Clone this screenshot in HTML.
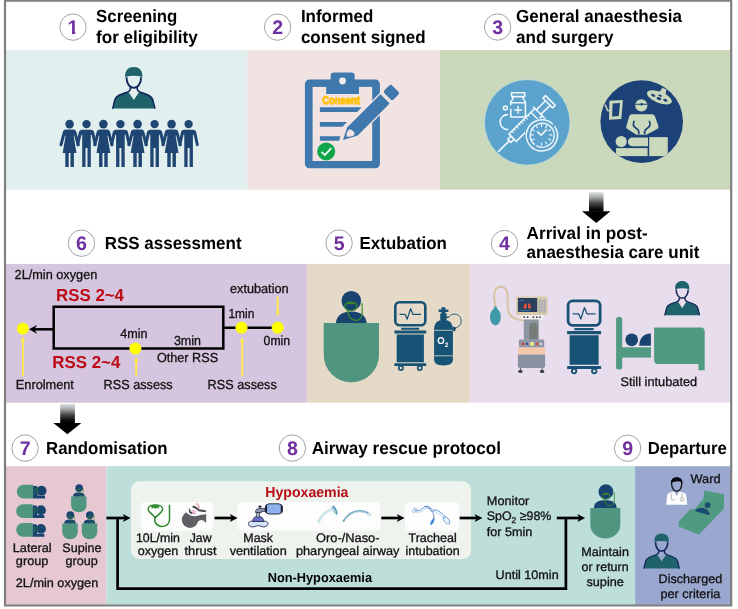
<!DOCTYPE html>
<html><head><meta charset="utf-8"><title>Study flow diagram</title>
<style>
html,body{margin:0;padding:0;background:#fff;}
body{width:738px;height:609px;position:relative;overflow:hidden;font-family:"Liberation Sans",Arial,sans-serif;color:#111;}
svg#art{position:absolute;left:0;top:0;display:block;will-change:transform;-webkit-font-smoothing:antialiased;text-rendering:geometricPrecision;}
svg#art text{white-space:pre;}
</style></head>
<body>

<svg id="art" width="738" height="609" viewBox="0 0 738 609" font-family="'Liberation Sans', Arial, sans-serif" fill="#111">
<defs>
<linearGradient id="gArrow" x1="0" y1="0" x2="0" y2="1">
<stop offset="0" stop-color="#dfe3e3"/><stop offset="0.25" stop-color="#a9abad"/><stop offset="0.55" stop-color="#4a4a4c"/><stop offset="0.85" stop-color="#0a0a0a"/><stop offset="1" stop-color="#000"/>
</linearGradient>
<!-- surgeon bust: 43.4 x 41.6 box -->
<g id="surgeon">
<path d="M0.2,41.6L2.4,32.6C3.4,28.6 8,27 15.4,25L17.2,26.2L21.7,33L26.2,26.2L28,25C35.4,27 40,28.6 41,32.6L43.2,41.6Z" fill="#1f626b"/>
<path d="M0.7,41.2L2.7,32.8C3.7,28.9 8,27.3 15.4,25.2M42.7,41.2L40.7,32.8C39.7,28.9 35.4,27.3 28,25.2" fill="none" stroke="#14285c" stroke-width="1.5" stroke-linecap="round"/>
<path d="M14.4,10.3C14.4,16.2 17.4,20.9 21.7,20.9C26,20.9 29,16.2 29,10.3" fill="none" stroke="#14285c" stroke-width="1.9"/>
<path d="M18.5,19.6C18.6,22.8 18,24.2 15.4,25.1M24.9,19.6C24.8,22.8 25.4,24.2 28,25.1" fill="none" stroke="#14285c" stroke-width="1.7"/>
<path d="M13.1,9.9C12.6,3.2 16.6,0 21.7,0C26.8,0 30.8,3.2 30.3,9.9Q21.7,7.6 13.1,9.9Z" fill="#1f626b"/>
</g>
<!-- people: origin = head centre x, y=0 at head centre -->
<g id="fem">
<circle cx="0" cy="0" r="4.3"/>
<path d="M-3.6,5.5H3.6C5.6,5.5 6.4,6.6 6.9,8.4L10.1,20.3A1.5,1.5 0 0 1 7.2,21.1L4.5,11.2L4.1,12.2L6.9,28.8H4.3V42.8H0.9V28.8H-0.9V42.8H-4.3V28.8H-6.9L-4.1,12.2L-4.5,11.2L-7.2,21.1A1.5,1.5 0 0 1 -10.1,20.3L-6.9,8.4C-6.4,6.6 -5.6,5.5 -3.6,5.5Z"/>
</g>
<g id="mal">
<circle cx="0" cy="0" r="4.2"/>
<path d="M-4.2,5.6H4.2C6.4,5.6 7.4,6.8 7.8,8.6L10.1,20.4A1.4,1.4 0 0 1 7.4,21.1L5.1,10.6L4.3,10.6V42.8H1V24H-1V42.8H-4.3V10.6L-5.1,10.6L-7.4,21.1A1.4,1.4 0 0 1 -10.1,20.4L-7.8,8.6C-7.4,6.8 -6.4,5.6 -4.2,5.6Z"/>
</g>
<!-- monitor on cart: 32.6 wide, ~70 tall -->
<g id="moncart">
<rect x="1.3" y="1.3" width="30" height="22.9" rx="4.2" fill="none" stroke="#175375" stroke-width="2.6"/>
<path d="M5.6,13.4H11.2L13.2,18.2L16.6,7.6L19,13.4H27" fill="none" stroke="#175375" stroke-width="1.2" stroke-linejoin="round"/>
<path d="M7.2,26.7H25.2V28.8H7.2Z M0.4,29.6H32.2V32.6H0.4Z M2.7,33.5H29.9V61.2H2.7Z M0.4,62.2H32.2V65H0.4Z" fill="#175375"/>
<circle cx="6.9" cy="67" r="2.1" fill="none" stroke="#175375" stroke-width="1.7"/>
<circle cx="25.8" cy="67" r="2.1" fill="none" stroke="#175375" stroke-width="1.7"/>
</g>
<!-- patient top view: blanket 55.3 wide; origin at blanket top-left -->
<g id="ptop">
<path d="M12.2,0.3C12.6,-6.5 17,-11.6 27.6,-11.6C38.2,-11.6 42.6,-6.5 43,0.3Z" fill="#194470"/>
<circle cx="27.6" cy="-22.3" r="9.8" fill="#194470"/>
<path d="M0,0H55.3V31.7A27.65,27.65 0 0 1 0,31.7Z" fill="#4f9580"/>
<ellipse cx="27.2" cy="-16.6" rx="6.1" ry="4.3" fill="none" stroke="#3a8c2a" stroke-width="1.2"/>
<path d="M22.4,-19.4C24.6,-21.4 29.8,-21.4 32,-19.4L30.6,-18.6L29,-19.4L27.2,-18.4L25.4,-19.4L23.8,-18.6Z" fill="#3a8c2a"/>
<path d="M23.6,-12.8C24.6,-6.6 27.6,-3 31.6,-2.6C35,-2.4 37.6,-5 38.4,-8.4V-19.4" fill="none" stroke="#3a8c2a" stroke-width="1.2" stroke-linecap="round"/>
</g>
<clipPath id="cp1"><path d="M60,14H86V31.2H75.2V36H72V31.2H60Z"/></clipPath>
<!-- medium patient top view: blanket 30 wide x 30.5; origin blanket top-left -->
<g id="pmed">
<path d="M3.6,0.3C3.8,-5.4 7,-7.8 15,-7.8C23,-7.8 26.2,-5.4 26.4,0.3Z" fill="#194470"/>
<circle cx="15.6" cy="-16.4" r="7.4" fill="#194470"/>
<path d="M0,0H30V16.6A15,13.9 0 0 1 0,16.6Z" fill="#4f9580"/>
<ellipse cx="15.7" cy="-11.8" rx="4" ry="3" fill="none" stroke="#3a8c2a" stroke-width="0.9"/>
<path d="M13,-13.6C14.4,-14.8 17,-14.8 18.4,-13.6L17,-13L15.7,-13.6L14.4,-13Z" fill="#3a8c2a"/>
<path d="M14,-8.8C14.6,-4.6 17.2,-2.2 20,-2.4C22.6,-2.8 24,-4.8 24,-7.4V-15.4" fill="none" stroke="#3a8c2a" stroke-width="0.9" stroke-linecap="round"/>
</g>
<!-- lateral patient: origin = blanket left/top; blanket 16.4 x 13.7 -->
<g id="plat">
<path d="M16.2,1.2H19.4C20.4,1.2 20.8,2 20.8,3V10.8H27.4A0.8,0.8 0 0 1 28.2,11.6V13.7H16.2Z" fill="#194470"/>
<circle cx="24.8" cy="5.9" r="4.9" fill="#194470"/>
<path d="M6.85,0H16.4V13.7H6.85A6.85,6.85 0 0 1 6.85,0Z" fill="#4f9580"/>
<path d="M21.4,3.4C20.4,4.6 20.4,7.2 21.6,8.4M18.4,3V9.6" fill="none" stroke="#2c8a3c" stroke-width="0.7"/>
</g>
<!-- small arrow head: tip at origin pointing right -->
<path id="ah" d="M0,0L-7.8,-4L-5.8,0L-7.8,4Z" fill="#000"/>
</defs>

<g id="panels">
<rect x="5" y="50.1" width="242.5" height="139.6" fill="#e2efef"/>
<rect x="247.5" y="50.1" width="192.5" height="139.6" fill="#f1e3e2"/>
<rect x="440" y="50.1" width="291" height="139.6" fill="#cad8bc"/>
<rect x="5" y="263.9" width="301.9" height="138.8" fill="#d6c5df"/>
<rect x="306.9" y="263.9" width="163.7" height="138.8" fill="#e5d9c7"/>
<rect x="470.6" y="263.9" width="260.4" height="138.8" fill="#e8ddec"/>
<rect x="5" y="466.2" width="101.4" height="139.8" fill="#e6c8d2"/>
<rect x="106.4" y="466.2" width="528.7" height="139.8" fill="#bedeDA"/>
<rect x="635.1" y="466.2" width="96" height="139.8" fill="#9aa8d0"/>
<path d="M5,0.6H731.2V605.5H5Z" fill="none" stroke="#7f7f7f" stroke-width="2.2"/>
<!-- big arrows -->
<path d="M589,192.2H603.5V211.3Z" fill="none"/>
<rect x="589" y="192.2" width="14.5" height="19.6" fill="url(#gArrow)"/>
<path d="M582,211.3H610.5L596.3,222.9Z" fill="#000"/>
<rect x="60.2" y="403.9" width="14.7" height="19.5" fill="url(#gArrow)"/>
<path d="M53.4,422.9H81.3L67.4,434.3Z" fill="#000"/>
</g>

<g id="numbers">
<circle cx="73" cy="27.1" r="13.2" fill="#fff" stroke="#8c8c8c" stroke-width="0.8"/>
<text x="73" y="34.0" font-size="19.6" font-weight="bold" fill="#7030a0" text-anchor="middle" clip-path="url(#cp1)">1</text>
<circle cx="277.6" cy="27.1" r="13.2" fill="#fff" stroke="#8c8c8c" stroke-width="0.8"/>
<text x="277.6" y="34.0" font-size="19.6" font-weight="bold" fill="#7030a0" text-anchor="middle">2</text>
<circle cx="497.6" cy="27.0" r="13.2" fill="#fff" stroke="#8c8c8c" stroke-width="0.8"/>
<text x="497.6" y="33.9" font-size="19.6" font-weight="bold" fill="#7030a0" text-anchor="middle">3</text>
<circle cx="81.4" cy="243.2" r="13.2" fill="#fff" stroke="#8c8c8c" stroke-width="0.8"/>
<text x="81.4" y="250.1" font-size="19.6" font-weight="bold" fill="#7030a0" text-anchor="middle">6</text>
<circle cx="339.1" cy="243.0" r="13.2" fill="#fff" stroke="#8c8c8c" stroke-width="0.8"/>
<text x="339.1" y="249.9" font-size="19.6" font-weight="bold" fill="#7030a0" text-anchor="middle">5</text>
<circle cx="504.5" cy="243.5" r="13.2" fill="#fff" stroke="#8c8c8c" stroke-width="0.8"/>
<text x="504.5" y="250.4" font-size="19.6" font-weight="bold" fill="#7030a0" text-anchor="middle">4</text>
<circle cx="25.1" cy="448.1" r="13.2" fill="#fff" stroke="#8c8c8c" stroke-width="0.8"/>
<text x="25.1" y="455.0" font-size="19.6" font-weight="bold" fill="#7030a0" text-anchor="middle">7</text>
<circle cx="292.4" cy="448.1" r="13.2" fill="#fff" stroke="#8c8c8c" stroke-width="0.8"/>
<text x="292.4" y="455.0" font-size="19.6" font-weight="bold" fill="#7030a0" text-anchor="middle">8</text>
<circle cx="627.6" cy="448.2" r="13.2" fill="#fff" stroke="#8c8c8c" stroke-width="0.8"/>
<text x="627.6" y="455.1" font-size="19.6" font-weight="bold" fill="#7030a0" text-anchor="middle">9</text>
</g>
<g id="titles" font-weight="bold" fill="#000">
<text x="96.1" y="22.3" font-size="17.5" fill="#000" textLength="81.3" lengthAdjust="spacingAndGlyphs">Screening</text>
<text x="96.1" y="43.1" font-size="17.5" fill="#000" textLength="101.6" lengthAdjust="spacingAndGlyphs">for eligibility</text>
<text x="300.9" y="22.3" font-size="17.5" fill="#000" textLength="72.4" lengthAdjust="spacingAndGlyphs">Informed</text>
<text x="300.9" y="43.1" font-size="17.5" fill="#000" textLength="124.7" lengthAdjust="spacingAndGlyphs">consent signed</text>
<text x="516" y="22.3" font-size="17.5" fill="#000" textLength="165.9" lengthAdjust="spacingAndGlyphs">General anaesthesia</text>
<text x="516" y="43.1" font-size="17.5" fill="#000" textLength="97.6" lengthAdjust="spacingAndGlyphs">and surgery</text>
<text x="104.7" y="249.0" font-size="17.5" fill="#000" textLength="136.9" lengthAdjust="spacingAndGlyphs">RSS assessment</text>
<text x="359.6" y="248.7" font-size="17.5" fill="#000" textLength="87.3" lengthAdjust="spacingAndGlyphs">Extubation</text>
<text x="526.6" y="238.6" font-size="17.5" fill="#000" textLength="121" lengthAdjust="spacingAndGlyphs">Arrival in post-</text>
<text x="526.6" y="258.4" font-size="17.5" fill="#000" textLength="172.8" lengthAdjust="spacingAndGlyphs">anaesthesia care unit</text>
<text x="46.1" y="453.9" font-size="17.5" fill="#000" textLength="121.4" lengthAdjust="spacingAndGlyphs">Randomisation</text>
<text x="311.7" y="454.1" font-size="17.5" fill="#000" textLength="189.3" lengthAdjust="spacingAndGlyphs">Airway rescue protocol</text>
<text x="647.7" y="454.1" font-size="17.5" fill="#000" textLength="79.1" lengthAdjust="spacingAndGlyphs">Departure</text>
</g>
<g id="row1">
<!-- panel 1 -->
<use href="#surgeon" x="112.1" y="67"/>
<g fill="#1f4572">
<use href="#fem" x="69.6" y="124.1"/><use href="#mal" x="86.5" y="124.1"/>
<use href="#fem" x="103.4" y="124.1"/><use href="#mal" x="120.4" y="124.1"/>
<use href="#fem" x="137.6" y="124.1"/><use href="#mal" x="154.6" y="124.1"/>
<use href="#fem" x="171.6" y="124.1"/><use href="#mal" x="188.6" y="124.1"/>
</g>
<!-- panel 2: clipboard -->
<g id="clipboard">
<rect x="304.9" y="79.6" width="75" height="88.7" rx="4.5" fill="#3e78ad"/>
<rect x="312.6" y="86.9" width="59.6" height="74.1" fill="#f1e3e2"/>
<path d="M326.2,93.9V80.5H330.7V75.6A3.1,3.1 0 0 1 333.8,72.5H351.6A3.1,3.1 0 0 1 354.7,75.6V80.5H359V93.9Z" fill="#3e78ad"/>
<circle cx="342.5" cy="81" r="3.4" fill="#f4ecec"/>
<text x="322.2" y="103.6" font-size="11" font-weight="bold" fill="#ffc20e" stroke="#ffc20e" stroke-width="1.15" stroke-linejoin="round" textLength="37.6" lengthAdjust="spacingAndGlyphs">Consent</text>
<path d="M319.9,107.3H361.6L357.2,111.9H319.9Z M319.9,122.1H347L342.6,126.8H319.9Z M319.9,136.2H340.4L339.2,140.8H319.9Z" fill="#3e78ad"/>
<g transform="translate(343.5,140.4) rotate(-45)">
<path d="M-1.8,-0.8L11.5,-7.9H73A2,2 0 0 1 75,-5.9V5.9A2,2 0 0 1 73,7.9H13.5Z" fill="#f1e3e2"/>
<path d="M0,-0.7L11.6,-6.5H58.8V6.5H13.6Z" fill="#3e78ad"/>
<path d="M5,-0.6C6.6,-2.8 9.4,-4.2 12,-3.6C13.6,-1.4 13.8,1 12.6,3.4C10,3.8 6.8,2.2 5,-0.6Z" fill="#f1e3e2"/>
<rect x="62.3" y="-6.5" width="11" height="13" rx="2.4" fill="#3e78ad"/>
</g>
<circle cx="326.2" cy="151.5" r="9" fill="#10a64a"/>
<path d="M321.6,151.8L324.9,155L331.2,148.2" fill="none" stroke="#fff" stroke-width="1.7"/>
</g>
<!-- panel 3: icons -->
<g id="anaes">
<circle cx="527.2" cy="122.4" r="42.8" fill="#5ba3cd" stroke="#c6e2dc" stroke-width="0.7"/>
<g fill="none" stroke="#eef6fb" stroke-width="1.6" stroke-linecap="round" stroke-linejoin="round">
<rect x="511.6" y="92.8" width="13.2" height="3.8"/>
<path d="M513.2,96.6L512.6,99.6C511.4,100.2 510.8,101 510.8,102.2V104.8M510.8,109.4V117H525.4V102.2C525.4,101 524.8,100.2 523.6,99.6L523,96.6M510.8,102.8H525.4"/>
<path d="M518.1,106.6V113.2M514.8,109.9H521.4" stroke-width="1.5"/>
<circle cx="505.4" cy="107.9" r="1.9"/>
<path d="M507.6,114.6A7.5,7.5 0 0 0 507.6,129.6"/>
<g transform="translate(498.6,151.4) rotate(-44.5)">
<path d="M0,0H15"/>
<path d="M15,-2.2H19.5V2.2H15Z"/>
<path d="M19.5,-5.2H56V5.2H19.5Z"/>
<path d="M24,-5.2V-2.6M27.2,-5.2V-3.4M30.4,-5.2V-2.6M33.6,-5.2V-3.4M36.8,-5.2V-2.6M40,-5.2V-3.4M43.2,-5.2V-2.6M46.4,-5.2V-3.4" stroke-width="1"/>
<path d="M50.5,-5.2V5.2"/>
<path d="M56,5.2V9.6M56,-5.2V-7"/>
<path d="M56,-3.2H69M56,3.2H69"/>
<path d="M69,-6.9H72.6V6.9H69Z"/>
</g>
<circle cx="541.5" cy="134.9" r="16.6" fill="#5ba3cd" stroke="none"/>
<path d="M552.6,124A15.6,15.6 0 1 0 554.8,126.6" stroke-width="1.5"/>
<path d="M534.4,144.4A12,12 0 1 1 536.6,145.9" stroke-width="1.4"/>
<path d="M541.5,124.6V126.6M541.5,143.2V145.2M531.2,134.9H533.2M549.8,134.9H551.8M536.4,126L537.4,127.7M546.6,126L545.6,127.7M532.6,129.8L534.3,130.8M550.4,129.8L548.7,130.8M532.6,140L534.3,139M550.4,140L548.7,139M546.6,143.8L545.6,142.1" stroke-width="1.2"/>
<path d="M537.6,131.9L541.2,135.2L546.6,129.6" stroke-width="1.6"/>
</g>
</g>
<g id="surgery">
<clipPath id="cpS"><circle cx="641.7" cy="121.6" r="41.3"/></clipPath>
<circle cx="641.7" cy="121.6" r="41.3" fill="#1c4278"/>
<g fill="#cad8bc" clip-path="url(#cpS)">
<g transform="translate(659.4,97.4) rotate(22)">
<ellipse cx="0" cy="0" rx="13.2" ry="5.5"/>
<path d="M-2.2,-4.5L-0.8,-10H3.4L4.8,-4.5Z"/>
<g fill="#1c4278"><ellipse cx="-6.5" cy="0.4" rx="2.3" ry="1.3"/><ellipse cx="0" cy="1.3" rx="2.5" ry="1.4"/><ellipse cx="6.5" cy="0.4" rx="2.3" ry="1.3"/><ellipse cx="0" cy="-1.9" rx="2" ry="0.9"/></g>
</g>
<path d="M609.4,100.8L622.9,100L621.3,119L609,119.8Z"/>
<path d="M612.6,103.6L620,103.1L618.8,116L612.1,116.6Z" fill="#1c4278"/>
<path d="M605.2,104.6L607.6,110.6L610,110.8" fill="none" stroke="#cad8bc" stroke-width="1.5"/>
<circle cx="641.3" cy="105.4" r="6.1"/>
<path d="M635.3,104.2H647.3" stroke="#1c4278" stroke-width="1.1"/>
<circle cx="641.6" cy="104.2" r="1.3" fill="#1c4278"/>
<path d="M631.6,114.3H651.6C653.6,114.3 654.6,115.3 655.2,117L658.4,126C658.8,127.4 658.4,128.4 657.2,129.1L646.5,134.8H636.5L627.4,129.1C626.3,128.4 625.9,127.4 626.4,126L629,117C629.6,115.3 630.6,114.3 631.6,114.3Z"/>
<path d="M634,121.4C632.6,124.4 633.4,126.6 636.4,128.4C638.6,129.8 639.2,131.4 638.8,133.6M649.4,121.4C650.8,124.4 650,126.6 647,128.4C644.8,129.8 644.2,131.4 644.6,133.6" fill="none" stroke="#1c4278" stroke-width="1.7" stroke-linecap="round"/>
<circle cx="621.2" cy="141.5" r="5.6"/>
<path d="M632.4,137.4H648V146.3H632.4A4.4,4.4 0 0 1 632.4,137.4Z"/>
<rect x="649.2" y="137.1" width="18.6" height="19"/>
<rect x="616" y="148.1" width="31.6" height="8"/>
</g>
</g>
</g>

<g id="row2">
<!-- panel 6 flow -->
<g id="rss">
<path d="M53.7,306.8H223.3V348.6H53.7Z" fill="none" stroke="#000" stroke-width="2.5"/>
<path d="M53.7,329.3H33" fill="none" stroke="#000" stroke-width="2.5"/>
<path d="M29,329.3L37,324.9L34.6,329.3L37,333.7Z" fill="#000"/>
<path d="M223.3,327.7H277.7" fill="none" stroke="#000" stroke-width="2.5"/>
<g stroke="#ffe94e" stroke-width="1.9" fill="#ffe94e">
<path d="M22.9,376.4V340M136.2,376.4V360.5M242.2,376.4V340.6M277.7,296.6V312.5" fill="none"/>
<path d="M22.9,336.2L25.1,341.2H20.7Z M136.2,356.8L138.4,361.8H134Z M242.2,336.9L244.4,341.9H240Z M277.7,316.4L279.9,311.4H275.5Z" stroke="none"/>
</g>
<g fill="#ffff00" stroke="#f2ee2a" stroke-width="0.5">
<circle cx="22.9" cy="328.7" r="5.85"/><circle cx="135.4" cy="348.6" r="5.85"/><circle cx="241.5" cy="327.7" r="5.85"/><circle cx="277.7" cy="327.7" r="5.85"/>
</g>
<text x="14.6" y="278.7" font-size="13.1" stroke="#111" stroke-width="0.3" textLength="82.7" lengthAdjust="spacingAndGlyphs">2L/min oxygen</text>
<text x="56" y="300.8" font-size="17.3" font-weight="bold" fill="#bb0a12" textLength="68" lengthAdjust="spacingAndGlyphs">RSS 2~4</text>
<text x="52.3" y="367.9" font-size="17.3" font-weight="bold" fill="#bb0a12" textLength="68" lengthAdjust="spacingAndGlyphs">RSS 2~4</text>
<text x="230" y="292.7" font-size="13.1" stroke="#111" stroke-width="0.3" textLength="58.6" lengthAdjust="spacingAndGlyphs">extubation</text>
<text x="228.4" y="317.7" font-size="13.1" stroke="#111" stroke-width="0.3" textLength="25.9" lengthAdjust="spacingAndGlyphs">1min</text>
<text x="263.6" y="344.5" font-size="13.1" stroke="#111" stroke-width="0.3" textLength="26.5" lengthAdjust="spacingAndGlyphs">0min</text>
<text x="173.9" y="344.8" font-size="13.1" stroke="#111" stroke-width="0.3" textLength="27" lengthAdjust="spacingAndGlyphs">3min</text>
<text x="120.2" y="338.1" font-size="13.1" stroke="#111" stroke-width="0.3" textLength="27.3" lengthAdjust="spacingAndGlyphs">4min</text>
<text x="156.9" y="361.5" font-size="13.1" stroke="#111" stroke-width="0.3" textLength="61.2" lengthAdjust="spacingAndGlyphs">Other RSS</text>
<text x="15.8" y="388.9" font-size="13.1" stroke="#111" stroke-width="0.3" textLength="58.1" lengthAdjust="spacingAndGlyphs">Enrolment</text>
<text x="103.5" y="388.9" font-size="13.1" stroke="#111" stroke-width="0.3" textLength="69.2" lengthAdjust="spacingAndGlyphs">RSS assess</text>
<text x="207.6" y="388.9" font-size="13.1" stroke="#111" stroke-width="0.3" textLength="69.2" lengthAdjust="spacingAndGlyphs">RSS assess</text>
</g>
<!-- panel 5 -->
<use href="#ptop" x="323.7" y="323"/>
<use href="#moncart" x="394" y="301"/>
<g id="o2cyl">
<path d="M434.1,329.4C434.1,323.4 437.6,319.7 443.5,319.7C449.4,319.7 452.9,323.4 452.9,329.4V359.6C452.9,363.4 450.2,365.5 443.5,365.5C436.8,365.5 434.1,363.4 434.1,359.6Z" fill="#175375"/>
<path d="M434.1,330.3H452.9M434.1,355.8H452.9" stroke="#e6d9c8" stroke-width="0.8" fill="none"/>
<path d="M441.4,307.2H445.4V309.4H448.4V312H445.4V313.6H446.6V316.4H448.8V318H446.6V320H440.2V313.6H441.4V312H438.6V309.4H441.4Z" fill="#175375"/>
<path d="M448.8,317.2C450.4,314 455.6,313 458.8,315.6C462.2,318.6 462.2,324.4 457.6,327.2C456.4,327.8 455.4,328.2 454.8,328.8" fill="none" stroke="#175375" stroke-width="0.9"/>
<path d="M453.2,326.6L456,327.6L455,331.6L452.4,330.6Z" fill="#175375"/>
<text x="437.2" y="344" font-size="10" font-weight="bold" fill="#fff" textLength="7.4" lengthAdjust="spacingAndGlyphs">O</text>
<text x="444.8" y="347.2" font-size="6.4" font-weight="bold" fill="#fff">2</text>
</g>
<!-- panel 4 -->
<g id="anmachine">
<path d="M495.5,308C494,300 493.4,293.4 495.6,289.6C498,285.6 504,285.8 506.4,290C508.4,294 507.4,302 507.8,308C508.2,314.6 511.6,319.8 523.6,320.2" fill="none" stroke="#d8c3a0" stroke-width="1.9"/>
<ellipse cx="495.4" cy="317" rx="5.4" ry="8.4" fill="#3f99a8"/>
<rect x="493.9" y="306.6" width="3" height="2.6" fill="#3f99a8"/>
<rect x="516.1" y="296.6" width="31.4" height="18.4" rx="0.8" fill="#d9caa9"/>
<rect x="517.9" y="298" width="19.3" height="14" fill="#2b3f5f"/>
<path d="M525.6,303.4C524,304 523.4,306.8 523.8,308.4C524.6,309.2 526,308.6 526.6,307.4V304C526.4,303.4 526,303.2 525.6,303.4Z M529,303.4C530.6,304 531.2,306.8 530.8,308.4C530,309.2 528.6,308.6 528,307.4V304C528.2,303.4 528.6,303.2 529,303.4Z" fill="#e2573a"/>
<path d="M519.2,300.4H524M519.2,310.6H530" stroke="#3d7fb0" stroke-width="0.9"/>
<rect x="538.4" y="299.6" width="7.6" height="12.8" fill="#a9adb5"/>
<path d="M538.4,302.6H546M538.4,305.6H546M538.4,308.8H546M541,299.6V312.4M543.5,299.6V312.4" stroke="#d9caa9" stroke-width="0.5"/>
<rect x="521" y="315" width="21.8" height="4.5" fill="#f4f1ee"/>
<g fill="#2b3f5f"><circle cx="524.2" cy="317.2" r="0.9"/><circle cx="527.6" cy="317.2" r="0.9"/><circle cx="533.4" cy="317.2" r="0.9"/><circle cx="536.8" cy="317.2" r="0.9"/><circle cx="540" cy="317.2" r="0.9"/></g>
<rect x="523.8" y="319.5" width="15" height="20.3" fill="#8d95a3"/>
<path d="M529.4,339.6V326.4L531,322.8H536.6L537.6,326.4V339.6Z" fill="#757b77"/>
<rect x="518.9" y="339.6" width="25.3" height="8" rx="0.8" fill="#8f97a7"/>
<circle cx="523" cy="343.9" r="1.4" fill="#d9443a"/><circle cx="527" cy="343.9" r="1.1" fill="#2b3f8f"/><circle cx="532" cy="343.9" r="2.1" fill="#f6e98a"/><circle cx="537" cy="343.9" r="1.4" fill="#d9443a"/><circle cx="540.8" cy="343.9" r="1.1" fill="#f4f1ee"/>
<rect x="517.9" y="347.6" width="27.2" height="6.9" fill="#f1c9a9"/>
<path d="M517.9,354.5H545.1V365.4A2.6,2.6 0 0 1 542.5,368H520.5A2.6,2.6 0 0 1 517.9,365.4Z" fill="#8991a1"/>
<path d="M520.4,368V370M542.1,368V370" stroke="#555b66" stroke-width="1"/>
<ellipse cx="520.4" cy="371.4" rx="2.2" ry="1.7" fill="#3a3f4a"/><ellipse cx="542.1" cy="371.4" rx="2.2" ry="1.7" fill="#3a3f4a"/>
</g>
<use href="#moncart" transform="translate(566.7,299.5) scale(1.068)"/>
<g id="bed4">
<rect x="616.1" y="317" width="6.1" height="52.4" rx="2" fill="#4f9a80"/>
<rect x="620" y="347.3" width="31" height="10.3" fill="#4f9a80"/>
<path d="M654.1,327.6H700.7A4,4 0 0 1 704.7,331.6V370.3H698.5V363.9H658.1A4,4 0 0 1 654.1,359.9Z" fill="#4f9a80"/>
<circle cx="631.7" cy="339.8" r="6.4" fill="#194470"/>
<path d="M639.2,345.8C639.2,338 644,333.4 650.9,333.4V345.8Z" fill="#194470"/>
</g>
<use href="#surgeon" transform="translate(664.3,281) scale(0.824)"/>
<text x="620.4" y="385.9" font-size="12.7" stroke="#111" stroke-width="0.3" textLength="76.8" lengthAdjust="spacingAndGlyphs">Still intubated</text>
</g>

<g id="row3">
<!-- panel 7 -->
<use href="#plat" x="16.8" y="484.8"/>
<use href="#plat" x="16.2" y="504.3"/>
<use href="#plat" x="16.2" y="523"/>
<use href="#pmed" transform="translate(71.1,496.6) scale(0.515)"/>
<use href="#pmed" transform="translate(62.3,523.6) scale(0.515)"/>
<use href="#pmed" transform="translate(81.8,523.6) scale(0.515)"/>
<g font-size="12.4" stroke="#111" stroke-width="0.3">
<text x="12.8" y="551.9" textLength="38.9" lengthAdjust="spacingAndGlyphs">Lateral</text>
<text x="15.8" y="564.7" textLength="32.6" lengthAdjust="spacingAndGlyphs">group</text>
<text x="62.3" y="551.9" textLength="39.2" lengthAdjust="spacingAndGlyphs">Supine</text>
<text x="65.6" y="564.7" textLength="32.3" lengthAdjust="spacingAndGlyphs">group</text>
<text x="15.8" y="586.5" textLength="82.4" lengthAdjust="spacingAndGlyphs">2L/min oxygen</text>
</g>
<!-- panel 8 -->
<rect x="130.9" y="481.3" width="340.2" height="77.6" rx="8.5" fill="#eef3ee"/>
<rect x="140.8" y="502" width="72.3" height="28.8" rx="4.5" fill="#fcfdfc"/>
<rect x="237.6" y="502" width="142.8" height="28.8" rx="4.5" fill="#fcfdfc"/>
<rect x="404.9" y="502" width="54.3" height="28.8" rx="4.5" fill="#fcfdfc"/>
<g fill="none" stroke="#000" stroke-width="2.7">
<path d="M106.4,518H126"/>
<path d="M117.6,518V588.7H565.9V518"/>
<path d="M214.6,518H233"/>
<path d="M381.3,518H400"/>
<path d="M459.6,518H478"/>
<path d="M556.8,518H580.5"/>
</g>
<use href="#ah" x="130.6" y="518"/><use href="#ah" x="237.6" y="518"/><use href="#ah" x="404.6" y="518"/><use href="#ah" x="482.4" y="518"/><use href="#ah" x="585.1" y="518"/>
<!-- icons -->
<g id="ic-mask" fill="none" stroke="#2e8b2e" stroke-width="1.5" stroke-linecap="round" stroke-linejoin="round">
<path d="M155.4,517.6L149.2,511.6C147.4,509.4 148.2,506.6 150.8,505.6C153.4,504.8 157.4,504.8 160,505.6C162.6,506.6 163.4,509.4 161.6,511.6L155.4,517.6C154.6,519 154.6,521.4 155.6,523C157.6,526.4 162.6,527.4 166.2,525.4C168.6,524 169.5,521.6 169.5,519V505.4"/>
<path d="M151.8,505.6C153.6,505 157.2,505 159,505.6L158.4,508.2L157.2,507.2L155.4,508.4L153.6,507.2L152.4,508.2Z" fill="#2e8b2e" stroke-width="0.8"/>
</g>
<g id="ic-jaw">
<circle cx="190" cy="519.8" r="8.2" fill="#606165"/>
<path d="M195,514.6L206.2,514.2V522.3L205.2,522.8C204.2,520.4 201.8,519.4 199.4,520.6L196,523Z" fill="#606165"/>
<path d="M186.6,508.2C187.6,512.6 191.4,514.8 197,514L205.8,512V513.8L197.6,515.8C191.6,517 187.2,514.8 185.4,510.6Z" fill="#fdfdfd"/>
<path d="M192.4,509.4L196,510.8L195.4,514L192.2,513.4Z" fill="#f4b8d8"/>
<path d="M197.2,503.6L199.4,508.2" stroke="#efa3b9" stroke-width="1.7" fill="none"/>
<path d="M196.4,503.2L197.6,505.2" stroke="#e9cdbd" stroke-width="1.7" fill="none"/>
<path d="M192.6,506.6C195.4,506.8 197,508.8 199,510.2L205.8,511.2" fill="none" stroke="#47484c" stroke-width="2"/>
<path d="M189.4,508.8C189.6,511 190.2,512.4 191.4,513.8" fill="none" stroke="#47484c" stroke-width="1.4"/>
<path d="M199.6,512.5L205.8,512.7" fill="none" stroke="#fdfdfd" stroke-width="0.7"/>
</g>
<g id="ic-bvm">
<path d="M248.6,524.6C247.6,522.6 249.6,520.8 252.4,521.2H264C266.8,520.8 268.8,522.6 267.8,524.6C267,526.8 263.4,527.6 261.2,526.4C259.4,525.4 257,525.4 255.2,526.4C253,527.6 249.4,526.8 248.6,524.6Z" fill="#d3e3fa" stroke="#1a1a2e" stroke-width="0.8"/>
<path d="M252.6,521.4A5.6,5.4 0 0 1 263.8,521.4Z" fill="#6a70d2" stroke="#1a1a2e" stroke-width="0.7"/>
<rect x="256.8" y="512.6" width="2.8" height="4.6" fill="#a9b3c9" stroke="#1a1a2e" stroke-width="0.6"/>
<path d="M255.6,512.6C255.2,510.2 256.6,508.6 259,508.6H265.2V511.4H261.4V512.6Z" fill="#8f9bbb" stroke="#1a1a2e" stroke-width="0.7"/>
<path d="M258.4,506.6H261.6M260,505.2V508.4" stroke="#1a1a2e" stroke-width="1.1" fill="none"/>
<rect x="265.4" y="503.8" width="17" height="10.2" rx="3.8" fill="#8db4ec" stroke="#1a1a2e" stroke-width="0.9"/>
<path d="M266.2,505.4V512.4M281.6,505.4V512.4" stroke="#1a1a2e" stroke-width="1.7" fill="none"/>
</g>
<g id="ic-airway" fill="none" stroke-linecap="round">
<path d="M318.8,521.6C321.6,515 326.6,510.6 333.6,508.8" stroke="#cfe3ec" stroke-width="2.8"/>
<path d="M320.4,521C323,515.6 327.4,512 333.4,510.4" stroke="#eaf3f7" stroke-width="1"/>
<path d="M333.2,506.4C335.4,508.4 336.6,511 336.6,513.8" stroke="#4f96b0" stroke-width="1.7"/>
<path d="M332,507.2L335,513.4" stroke="#9cc7d8" stroke-width="1.3"/>
<path d="M343.6,521C347,515.4 352.6,511.4 358.6,511C362.6,510.8 366.6,512.2 369,514" stroke="#79aac4" stroke-width="2.1"/>
<path d="M344.6,520.2C348,515.4 353,512 358.6,511.8C362,511.6 365.6,512.6 368,514" stroke="#c5dde9" stroke-width="0.8"/>
<circle cx="369.4" cy="514.6" r="1.5" fill="#eef4f8" stroke="#b4cbd8" stroke-width="0.6"/>
</g>
<g id="ic-ett" fill="none" stroke="#3f7fd0" stroke-linecap="round">
<path d="M414.4,509.6C418.6,512.4 421.6,509.6 423.6,507.4C426.6,504.8 430.6,507 432.8,510.4C436.6,508.4 441.6,512.4 446.6,518.6" stroke-width="0.8"/>
<path d="M415.6,511.6C419.6,513.6 422.6,511 424.6,509C427,507 429.6,508.6 431,511.4C436,510.6 440.6,514.4 444.6,519.6" stroke-width="0.6" stroke="#8fb2e4"/>
<path d="M412.6,510.4C413.2,508 415.6,507.2 416.6,508.8C417.4,511 415.4,512.6 413.4,512.4Z" stroke-width="0.7" stroke="#7ea4df"/>
<path d="M443.8,517.2C446.6,516 449.6,519 449.8,522.4C449.6,524.6 447.4,524.4 445.6,522.8C443.6,521.2 442.6,518.6 443.8,517.2Z" stroke-width="0.7" fill="#e8f0fb"/>
<path d="M425,506.4C430.6,507.4 434.6,512.6 433.8,519" stroke-width="0.7" stroke="#3a5f9f"/>
<path d="M434,518.4C434.6,520.4 432.8,524 430.8,524.8C430.2,523 431.6,519.6 434,518.4Z" fill="#2f7fe0" stroke-width="0.6"/>
</g>
<use href="#pmed" x="590.3" y="508.1"/>
<!-- texts -->
<text x="265.2" y="496.8" font-size="14.4" font-weight="bold" fill="#b80c14" textLength="83.3" lengthAdjust="spacingAndGlyphs">Hypoxaemia</text>
<text x="267.7" y="581.5" font-size="13.2" font-weight="bold" fill="#000" textLength="104.3" lengthAdjust="spacingAndGlyphs">Non-Hypoxaemia</text>
<g font-size="12.4" stroke="#111" stroke-width="0.3">
<text x="136" y="541.9" textLength="43.9" lengthAdjust="spacingAndGlyphs">10L/min</text>
<text x="137.7" y="554.8" textLength="40.7" lengthAdjust="spacingAndGlyphs">oxygen</text>
<text x="189.7" y="541.9" textLength="21.9" lengthAdjust="spacingAndGlyphs">Jaw</text>
<text x="184.5" y="554.8" textLength="32" lengthAdjust="spacingAndGlyphs">thrust</text>
<text x="243.3" y="541.9" textLength="29.7" lengthAdjust="spacingAndGlyphs">Mask</text>
<text x="229.7" y="554.8" textLength="57" lengthAdjust="spacingAndGlyphs">ventilation</text>
<text x="316.1" y="541.9" textLength="63.4" lengthAdjust="spacingAndGlyphs">Oro-/Naso-</text>
<text x="295.9" y="554.8" textLength="103.6" lengthAdjust="spacingAndGlyphs">pharyngeal airway</text>
<text x="408.5" y="541.9" textLength="48.3" lengthAdjust="spacingAndGlyphs">Tracheal</text>
<text x="405.6" y="554.8" textLength="54" lengthAdjust="spacingAndGlyphs">intubation</text>
<text x="486.8" y="504.8" textLength="42.5" lengthAdjust="spacingAndGlyphs">Monitor</text>
<text x="486.8" y="520.2">SpO<tspan font-size="8.4" dy="2.6">2</tspan><tspan dy="-2.6"> ≥98%</tspan></text>
<text x="486.8" y="535.7" textLength="45.6" lengthAdjust="spacingAndGlyphs">for 5min</text>
<text x="495.6" y="579.4" textLength="63.1" lengthAdjust="spacingAndGlyphs">Until 10min</text>
<text x="581.3" y="555.7" textLength="47.6" lengthAdjust="spacingAndGlyphs">Maintain</text>
<text x="581.6" y="571.1" textLength="47" lengthAdjust="spacingAndGlyphs">or return</text>
<text x="586.5" y="585.9" textLength="37.3" lengthAdjust="spacingAndGlyphs">supine</text>
</g>
<!-- panel 9 -->
<g id="doctor">
<path d="M666.1,504.8L667.2,495.4C667.6,493.4 668.8,492.6 671,492.2L674.2,491.4H679.2L682.4,492.2C684.6,492.6 685.8,493.4 686.2,495.4L687.3,504.8Z" fill="#fdfdfd"/>
<path d="M674.2,491.6L676.7,496L679.2,491.6" fill="#9aa8d0"/>
<path d="M671.2,493V498.6A1.6,1.6 0 0 0 674.4,498.6M682,493V497.6" fill="none" stroke="#9a9a9a" stroke-width="0.7"/>
<circle cx="682" cy="499.4" r="1.6" fill="none" stroke="#9a9a9a" stroke-width="0.7"/>
<path d="M671.6,483.6C671.6,480 673.6,478 676.7,478C679.8,478 681.8,480 681.8,483.6C681.8,488 679.6,491.2 676.7,491.2C673.8,491.2 671.6,488 671.6,483.6Z" fill="#9aa8d0" stroke="#0c0c14" stroke-width="1.2"/>
<path d="M671,484C670.4,479.6 673,477.2 676.7,477.2C680.4,477.2 683,479.6 682.4,484C681.4,481.8 679.6,481 676.7,481.4C674,481.8 672,481.8 671,484Z" fill="#0c0c14"/>
</g>
<g id="bed9">
<path d="M704.4,490.6L724,494.2V508.6L711,522L693.6,510.6L703.4,498.6Z" fill="#4f9a80"/>
<path d="M691.2,508.6L712.4,516.2L712,521L698.8,534.4L678.6,526.4V521.6Z" fill="#4f9a80"/>
<circle cx="707.6" cy="505.1" r="2.9" fill="#1b4a70"/>
<path d="M695,511.2C696.4,508.4 700.4,507 704.6,508.4C708.2,509.6 709.8,512.2 709.6,515.2Z" fill="#1b4a70"/>
</g>
<use href="#surgeon" transform="translate(643.4,533.6) scale(0.84)"/>
<g font-size="12.4" stroke="#111" stroke-width="0.3">
<text x="690.6" y="482.5" textLength="29.9" lengthAdjust="spacingAndGlyphs">Ward</text>
<text x="658.6" y="582.7" textLength="63.7" lengthAdjust="spacingAndGlyphs">Discharged</text>
<text x="660.5" y="597.5" textLength="59.9" lengthAdjust="spacingAndGlyphs">per criteria</text>
</g>
</g>

</svg>
</body></html>
